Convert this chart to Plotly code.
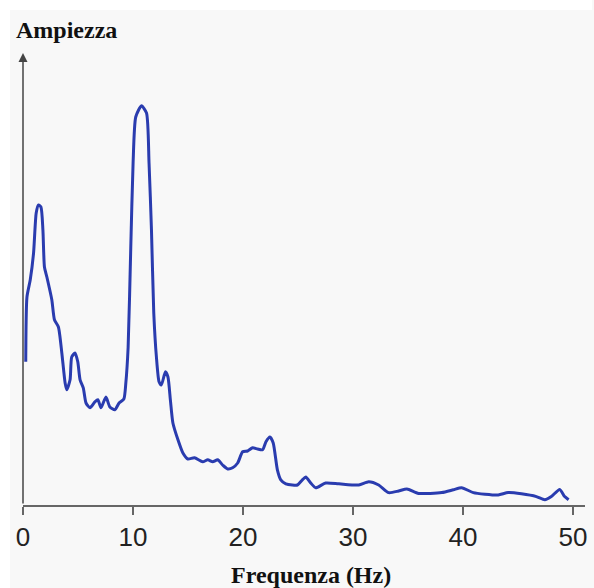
import plotly.graph_objects as go

# Data (frequency in Hz, amplitude in arbitrary units)
freq_hz = [0.25, 0.36, 0.66, 0.96, 1.20, 1.41, 1.63, 1.81, 1.95, 2.17, 2.62, 2.86, 3.22, 3.53,
           3.83, 3.98, 4.28, 4.43, 4.73, 4.98, 5.19, 5.48, 5.73, 6.09, 6.54, 6.81, 7.09, 7.54,
           7.90, 8.35, 8.74, 9.17, 9.35, 9.56, 9.80, 10.01, 10.25, 10.77, 11.23, 11.46, 11.68,
           11.89, 12.13, 12.37, 12.58, 12.95, 13.18, 13.40, 13.63, 14.09, 14.54, 14.99, 15.59,
           16.34, 16.80, 17.25, 17.70, 18.15, 18.61, 19.06, 19.52, 19.97, 20.42, 20.88, 21.33,
           21.78, 22.09, 22.45, 22.75, 23.13, 23.44, 23.90, 24.49, 24.95, 25.40, 25.71, 26.16,
           26.62, 27.52, 28.72, 30.53, 31.44, 32.34, 33.25, 34.15, 34.91, 35.97, 38.08, 39.13,
           39.88, 40.95, 42.01, 43.21, 44.12, 45.32, 46.68, 47.44, 48.04, 48.80, 49.25, 49.61]
amplitude = [35.8, 52.0, 56.3, 63.0, 73.0, 75.0, 74.5, 68.8, 59.5, 57.0, 51.3, 46.3, 44.5, 38.0,
             30.5, 28.8, 31.3, 37.0, 38.0, 35.8, 31.3, 29.3, 25.5, 24.3, 25.8, 26.3, 24.3, 27.0,
             24.5, 23.8, 25.5, 26.5, 30.5, 39.5, 64.5, 85.5, 97.0, 99.8, 98.0, 85.5, 68.8,
             48.0, 37.0, 30.8, 30.0, 33.3, 32.0, 26.3, 20.5, 16.3, 13.0, 11.5, 11.8,
             10.8, 11.3, 10.8, 11.3, 10.0, 9.0, 9.3, 10.5, 13.3, 13.5, 14.3, 14.0,
             13.8, 15.8, 17.0, 15.5, 8.8, 6.3, 5.3, 5.0, 5.0, 6.3, 7.0, 5.5,
             4.3, 5.5, 5.3, 5.0, 5.8, 5.0, 3.1, 3.5, 4.0, 2.9, 3.1, 3.8,
             4.3, 3.1, 2.7, 2.5, 3.1, 2.8, 2.1, 1.3, 2.1, 3.9, 2.1, 1.3]
x_ticks = [0, 10, 20, 30, 40, 50]
x_title = "Frequenza (Hz)"
y_title = "Ampiezza"

W, H = 594, 588
L, R, T, B = 23, 7, 45, 83
PW, PH = W - L - R, H - T - B
X_MAX = 51.1
Y_MAX = 115


def px_to_paper(px, py):
    return (px - L) / PW, (H - B - py) / PH


fig = go.Figure()
fig.add_trace(go.Scatter(
    x=freq_hz, y=amplitude, mode="lines",
    line=dict(color="#2a3caf", width=3, shape="spline", smoothing=0.6),
    hoverinfo="skip", showlegend=False,
))

# y axis arrow
fig.add_annotation(x=0, y=113, ax=0, ay=0, xref="x", yref="y", axref="x", ayref="y",
                   showarrow=True, arrowhead=2, arrowsize=1.2, arrowwidth=1.5,
                   arrowcolor="#444444", text="")

ax_, ay_ = px_to_paper(14, 30)
fig.add_annotation(x=ax_, y=ay_, xref="paper", yref="paper", xanchor="left", yanchor="middle",
                   text="<b>%s</b>" % y_title, showarrow=False,
                   font=dict(family="Liberation Serif", size=24, color="#111111"))
fx, fy = px_to_paper(312, 575)
fig.add_annotation(x=fx, y=fy, xref="paper", yref="paper", xanchor="center", yanchor="middle",
                   text="<b>%s</b>" % x_title, showarrow=False,
                   font=dict(family="Liberation Serif", size=24, color="#111111"))

# white strips at the left and top edges of the picture
x0, _ = px_to_paper(0, 0)
x10, _ = px_to_paper(10, 0)
_, ytop = px_to_paper(0, 0)
_, y10 = px_to_paper(0, 10)
_, ybot = px_to_paper(0, H)
xr, _ = px_to_paper(W, 0)
fig.add_shape(type="rect", xref="paper", yref="paper", x0=x0, x1=x10, y0=ybot, y1=ytop,
              fillcolor="white", line=dict(width=0), layer="below")
fig.add_shape(type="rect", xref="paper", yref="paper", x0=x0, x1=xr, y0=y10, y1=ytop,
              fillcolor="white", line=dict(width=0), layer="below")

fig.update_layout(
    width=W, height=H,
    margin=dict(l=L, r=R, t=T, b=B),
    paper_bgcolor="#f8f8f8", plot_bgcolor="rgba(0,0,0,0)",
    xaxis=dict(range=[0, X_MAX], tickvals=x_ticks, showgrid=False, zeroline=False,
               showline=True, linecolor="#666666", linewidth=1.5,
               ticks="outside", ticklen=8, tickwidth=1.5, tickcolor="#666666",
               tickfont=dict(family="Liberation Sans", size=26, color="#222222")),
    yaxis=dict(range=[0, Y_MAX], showgrid=False, zeroline=False, showline=False,
               showticklabels=False, ticks=""),
)

fig.write_html("out.html")
